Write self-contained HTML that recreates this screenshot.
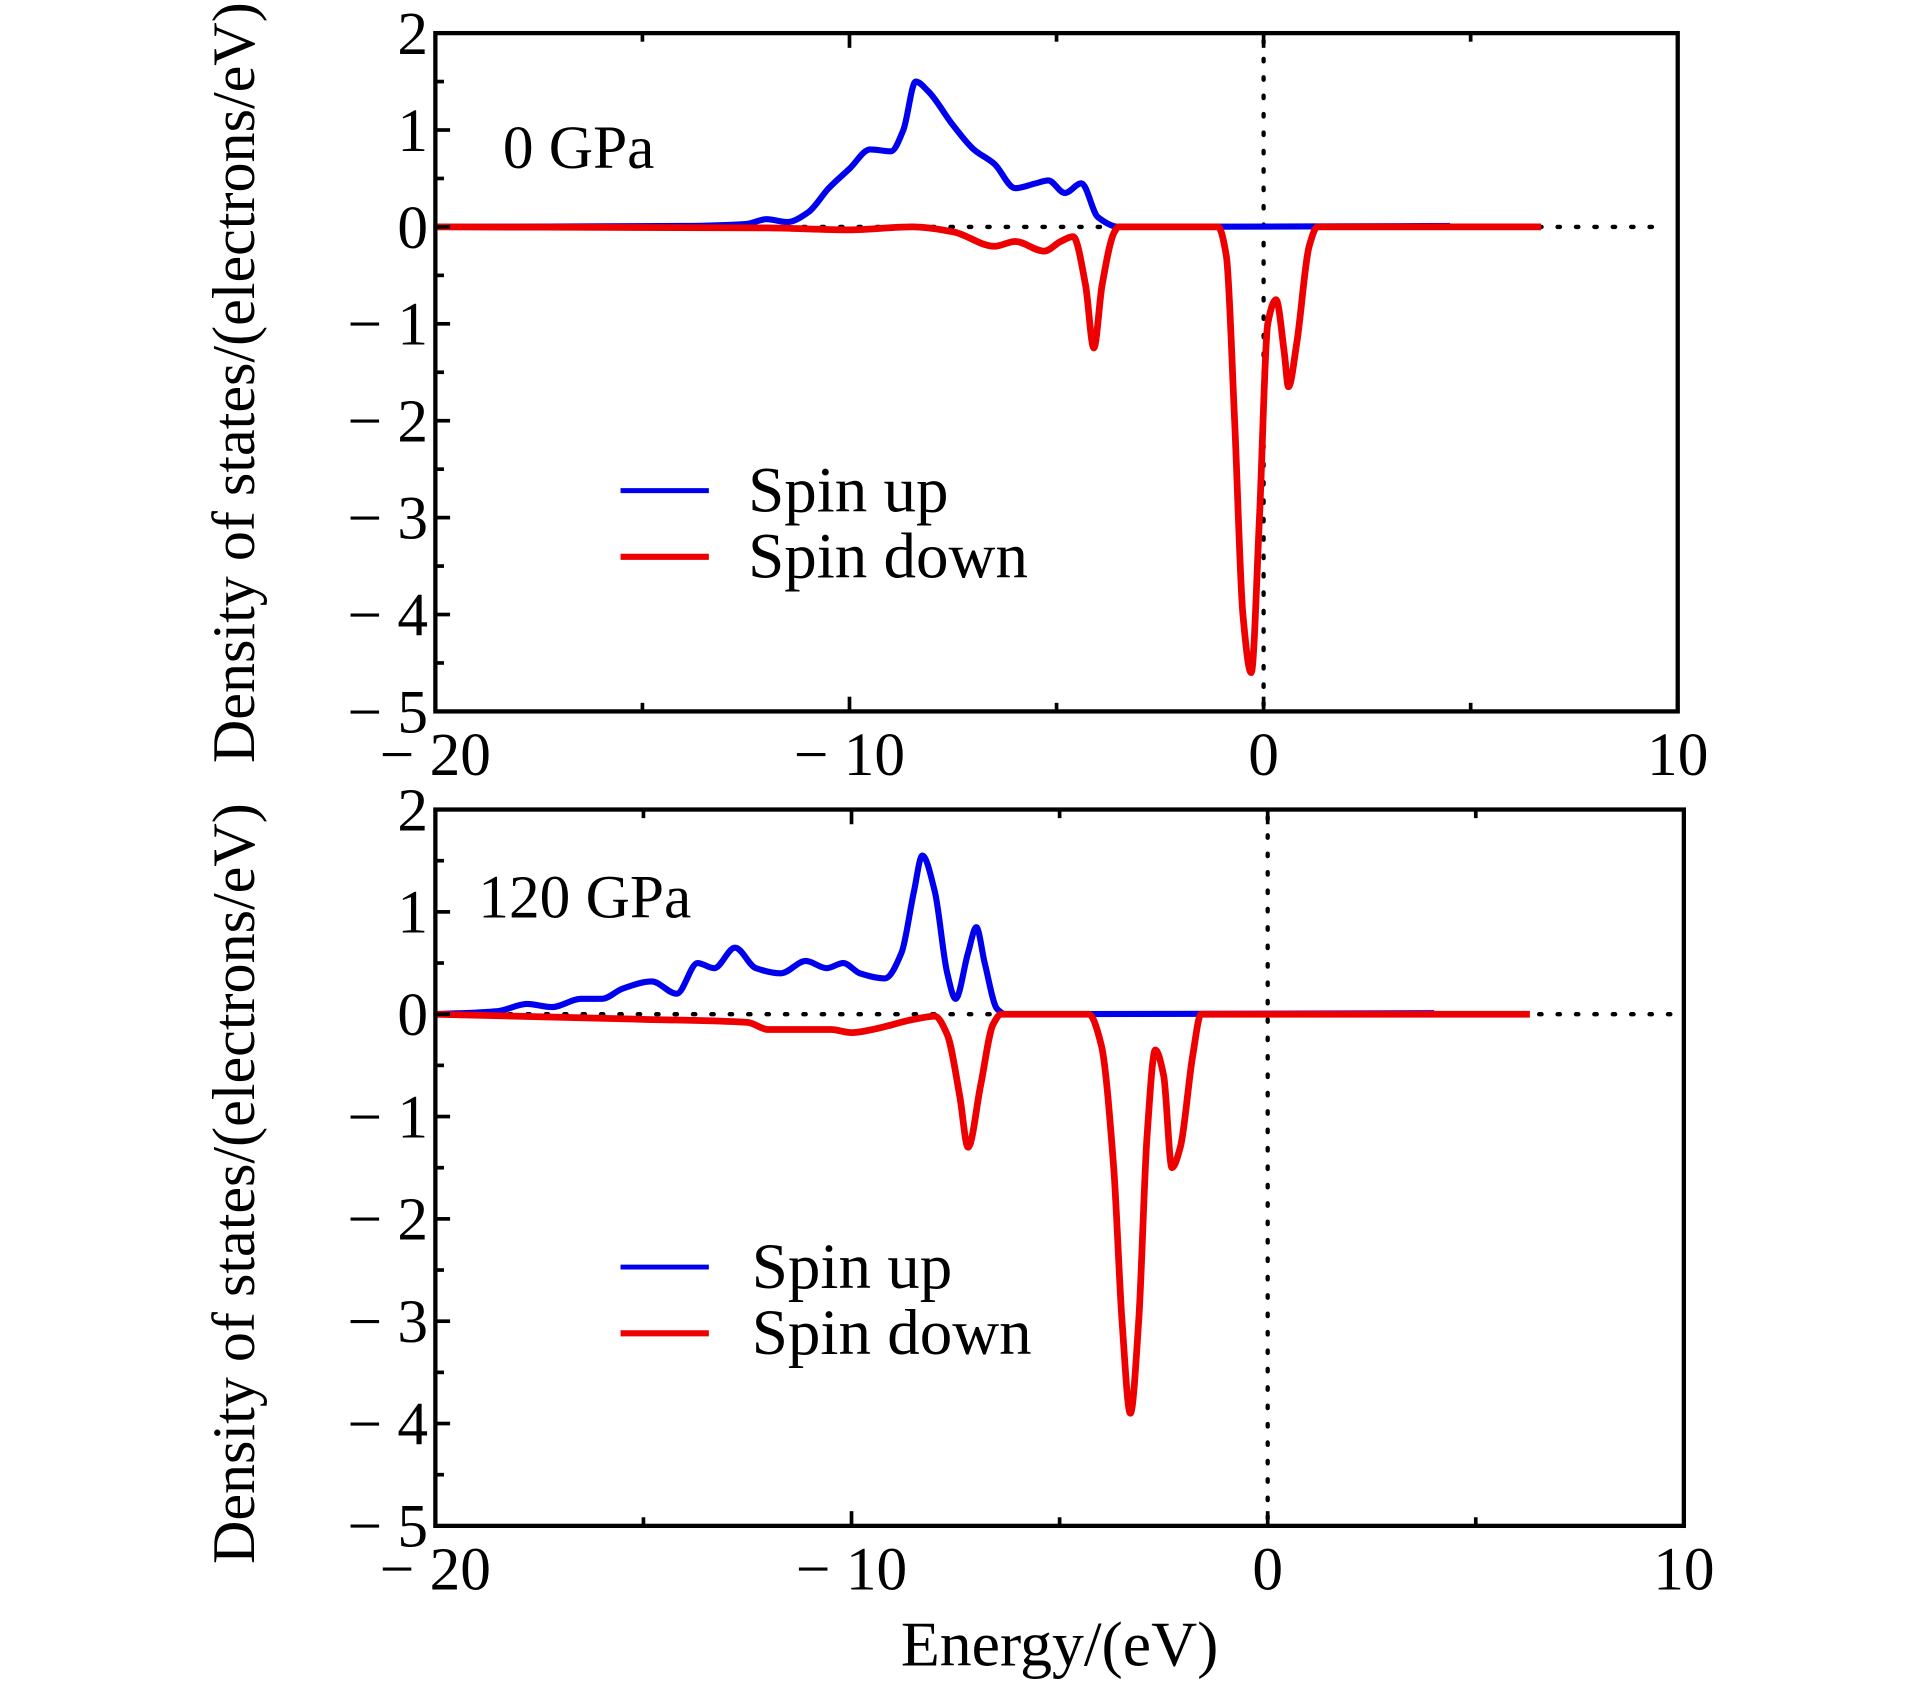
<!DOCTYPE html>
<html><head><meta charset="utf-8"><style>
html,body{margin:0;padding:0;background:#fff;}
svg{display:block;font-family:"Liberation Serif",serif;}
</style></head><body>
<svg id="chart" width="1923" height="1689" viewBox="0 0 1568 1377" preserveAspectRatio="none" xmlns="http://www.w3.org/2000/svg"></svg>
<script>
// Panel 1 (0 GPa)
const p1UpE=[-20,-14,-12.5,-12,-11.5,-11,-10.5,-10,-9.5,-9,-8.7,-8.4,-8.1,-7.5,-7,-6.5,-6,-5.5,-5.2,-4.8,-4.4,-4,-3.5,4.5];
const p1UpD=[0,0.01,0.03,0.08,0.05,0.15,0.4,0.6,0.8,0.78,1.0,1.5,1.4,1.05,0.8,0.65,0.4,0.45,0.48,0.35,0.45,0.1,0,0.01];
const p1DnE=[-20,-12,-10,-8.5,-7.5,-6.5,-6,-5.3,-4.9,-4.6,-4.3,-4.1,-3.9,-3.6,-3.5,-1.1,-0.9,-0.7,-0.5,-0.3,-0.1,0.1,0.3,0.5,0.6,0.8,1.1,1.3,3,6.7];
const p1DnD=[0,-0.01,-0.03,0,-0.05,-0.2,-0.15,-0.25,-0.15,-0.1,-0.6,-1.25,-0.6,-0.05,0,0,-0.3,-2,-4,-4.6,-3,-1.0,-0.75,-1.3,-1.65,-1.2,-0.2,0,0,0];
// Panel 2 (120 GPa)
const p2UpE=[-20,-18.5,-17.8,-17.2,-16.5,-16,-15.5,-14.8,-14.2,-13.7,-13.3,-12.8,-12.3,-11.7,-11.1,-10.6,-10.2,-9.8,-9.2,-8.8,-8.5,-8.3,-8.0,-7.7,-7.5,-7.2,-7.0,-6.8,-6.5,-6.3,4];
const p2UpD=[0,0.03,0.1,0.07,0.15,0.15,0.25,0.32,0.2,0.5,0.45,0.65,0.45,0.4,0.52,0.45,0.5,0.4,0.35,0.6,1.2,1.55,1.2,0.4,0.15,0.6,0.85,0.5,0.05,0,0.01];
const p2DnE=[-20,-15,-12.5,-12,-10.5,-10,-9.5,-8.5,-8,-7.7,-7.4,-7.2,-6.9,-6.6,-6.4,-4.3,-4.0,-3.7,-3.5,-3.3,-3.1,-2.9,-2.7,-2.5,-2.3,-2.1,-1.8,-1.6,6.3];
const p2DnD=[0,-0.05,-0.08,-0.15,-0.15,-0.18,-0.15,-0.05,-0.02,-0.2,-0.8,-1.3,-0.7,-0.1,0,0,-0.3,-1.5,-3.0,-3.9,-3.0,-1.2,-0.35,-0.6,-1.5,-1.3,-0.4,0,0];
const xTicks=[-20,-10,0,10];
const xTickLabels=["\u221220","\u221210","0","10"];
const yTicks=[2,1,0,-1,-2,-3,-4,-5];
const yTickLabels=["2","1","0","\u22121","\u22122","\u22123","\u22124","\u22125"];

const svg=document.getElementById('chart');
const NS='http://www.w3.org/2000/svg';
function mk(tag,attrs,parent){const e=document.createElementNS(NS,tag);for(const k in attrs)e.setAttribute(k,attrs[k]);(parent||svg).appendChild(e);return e;}
// monotone cubic (Fritsch-Carlson) in pixel space, x increasing
function smooth(p){const n=p.length;const d=[],m=[];
  for(let i=0;i<n-1;i++)d.push((p[i+1][1]-p[i][1])/(p[i+1][0]-p[i][0]));
  m[0]=d[0];m[n-1]=d[n-2];
  for(let i=1;i<n-1;i++){if(d[i-1]*d[i]<=0)m[i]=0;else{const h0=p[i][0]-p[i-1][0],h1=p[i+1][0]-p[i][0];const w1=2*h1+h0,w2=h1+2*h0;m[i]=(w1+w2)/(w1/d[i-1]+w2/d[i]);}}
  let s='M'+p[0][0]+','+p[0][1];
  for(let i=0;i<n-1;i++){const h=(p[i+1][0]-p[i][0])/3;s+=' C'+(p[i][0]+h)+','+(p[i][1]+m[i]*h)+' '+(p[i+1][0]-h)+','+(p[i+1][1]-m[i+1]*h)+' '+p[i+1][0]+','+p[i+1][1];}
  return s;}

function panel(cfg){
  const g=mk('g',{});
  
  
  const X=v=>cfg.x0+(v+20)/30*(cfg.x1-cfg.x0);
  const Y=v=>cfg.y1-(v+5)/7*(cfg.y1-cfg.y0);
  const zl=mk('line',{x1:X(-20),x2:cfg.x1-8,y1:Y(0),y2:Y(0),stroke:'#000','stroke-width':3.5,'stroke-dasharray':'2 13','stroke-linecap':'round'},g);
  
  const fl=mk('line',{x1:X(0),x2:X(0),y1:cfg.y0+6,y2:cfg.y1,stroke:'#000','stroke-width':3.5,'stroke-dasharray':'2 13','stroke-linecap':'round'},g);
  
  const up=mk('path',{d:smooth(cfg.upE.map((e,i)=>[X(e),Y(cfg.upD[i])])),fill:'none',stroke:'#0000ee','stroke-width':5,'stroke-linejoin':'round'},g);
  
  const dn=mk('path',{d:smooth(cfg.dnE.map((e,i)=>[X(e),Y(cfg.dnD[i])])),fill:'none',stroke:'#ee0000','stroke-width':5.5,'stroke-linejoin':'round'},g);
  
  const fr=mk('rect',{x:cfg.x0,y:cfg.y0,width:cfg.x1-cfg.x0,height:cfg.y1-cfg.y0,fill:'none',stroke:'#000','stroke-width':3.5},g);
  
  for(let v=-20;v<=10;v+=5){const major=v%10===0;const L=major?12:7;
    mk('line',{x1:X(v),x2:X(v),y1:cfg.y1,y2:cfg.y1-L,stroke:'#000','stroke-width':3},g);
    mk('line',{x1:X(v),x2:X(v),y1:cfg.y0,y2:cfg.y0+L,stroke:'#000','stroke-width':3},g);}
  xTicks.forEach((v,i)=>{const t=mk('text',{x:X(v),y:cfg.y1+52,'font-size':50,'text-anchor':'middle'},g);t.textContent=xTickLabels[i].replace('\u2212','\u2212 ');
    });
  for(let v=-5;v<=2;v+=0.5){const major=Number.isInteger(v);const L=major?12:7;
    mk('line',{x1:cfg.x0,x2:cfg.x0+L,y1:Y(v),y2:Y(v),stroke:'#000','stroke-width':3},g);}
  yTicks.forEach((v,i)=>{const t=mk('text',{x:cfg.x0-6,y:Y(v)+17,'font-size':50,'text-anchor':'end'},g);t.textContent=yTickLabels[i].replace('\u2212','\u2212 ');
    });
  const yt=mk('text',{x:0,y:0,'font-size':49,'text-anchor':'middle',transform:`translate(${cfg.x0-148},${cfg.ytY}) rotate(-90)`},g);
  yt.textContent='Density of states/(electrons/eV)';
  
  const pl=mk('text',{x:cfg.labX,y:cfg.labY,'font-size':50},g);pl.textContent=cfg.label;
  
  const lg=mk('g',{},g);
  const l1=mk('line',{x1:506,x2:578,y1:cfg.legY,y2:cfg.legY,stroke:'#0000ee','stroke-width':4},lg);
  
  const t1=mk('text',{x:cfg.legX,y:cfg.legY+17,'font-size':53},lg);t1.textContent='Spin up';
  
  const l2=mk('line',{x1:506,x2:578,y1:cfg.legY+54,y2:cfg.legY+54,stroke:'#ee0000','stroke-width':5},lg);
  
  const t2=mk('text',{x:cfg.legX,y:cfg.legY+71,'font-size':53},lg);t2.textContent='Spin down';
  
}
panel({name:'panel-0gpa',x0:355,x1:1368,y0:27,y1:580,upE:p1UpE,upD:p1UpD,dnE:p1DnE,dnD:p1DnD,label:'0 GPa',labX:410,labY:137,legY:400,legX:610,ytY:312});
panel({name:'panel-120gpa',x0:355,x1:1373,y0:660,y1:1244,upE:p2UpE,upD:p2UpD,dnE:p2DnE,dnD:p2DnD,label:'120 GPa',labX:390,labY:748,legY:1033,legX:613,ytY:965});
const xt=mk('text',{x:864,y:1358,'font-size':52,'text-anchor':'middle'});
xt.textContent='Energy/(eV)';


</script>
</body></html>
